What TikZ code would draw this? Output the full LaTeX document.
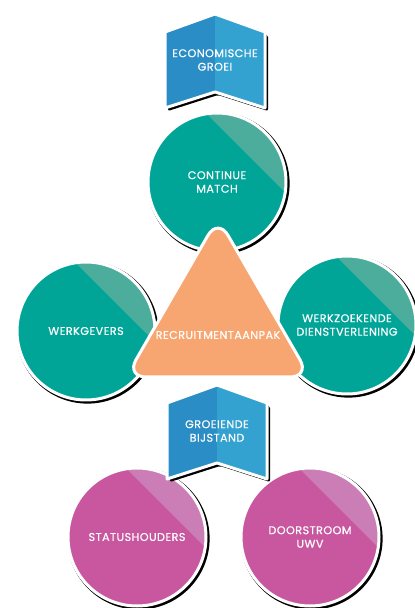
\documentclass[tikz,border=0pt]{standalone}
\usepackage{fontspec}
\setmainfont[LetterSpace=4,FakeBold=0.5]{Poppins}
\usepackage{tikz}
\usetikzlibrary{shadows}
\definecolor{teal}{HTML}{00A598}
\definecolor{tealpale}{HTML}{4CAD9C}
\definecolor{pink}{HTML}{C9579F}
\definecolor{pinkpale}{HTML}{CB7EB5}
\definecolor{blueleft}{HTML}{2B8DC6}
\definecolor{blueright}{HTML}{33A2D0}
\definecolor{orange}{HTML}{F7A671}
\tikzset{txt/.style={text=white,align=center,font=\fontsize{11.2}{13.5}\selectfont},
         segment/.style={path picture={\fill[#1] ([shift={(45:41)}]path picture bounding box.center)
             ++(-45:120) -- ++(135:240) -- ++(45:120) -- ++(-45:240) -- cycle;}},
         bubble/.style={circle,minimum size=138pt,inner sep=0pt,fill=#1,draw=white,line width=3pt,
             segment=#1pale,txt,
             drop shadow={fill=black,opacity=1,shadow xshift=1.5pt,shadow yshift=-1.5pt,shadow scale=1.03}},
         chevfill/.style={white,line width=3pt,line join=round}}

\begin{document}
\begin{tikzpicture}[x=1pt,y=1pt]
\useasboundingbox (0,0) rectangle (415,608);
\node[bubble=teal] (match) at (217,426) {CONTINUE\\MATCH};
\node[bubble=teal] (werkg) at (86,277) {WERKGEVERS};
\node[bubble=teal] (werkz) at (347,283) {WERKZOEKENDE\\DIENSTVERLENING};
\node[bubble=pink] (status) at (137,71) {STATUSHOUDERS};
\node[bubble=pink] (uwv) at (310,71) {DOORSTROOM\\UWV};
% recruitment triangle
\draw[fill=orange,draw=white,line width=3pt,rounded corners=20pt] (218,390) -- (310,231) -- (126,231) -- cycle;
\node[txt] (recr) at (218,273) {RECRUITMENTAANPAK};
% chevrons
\begin{scope}[shift={(215,547)}]
  \fill[black,rounded corners=2pt] (-47,26) -- (3,44) -- (53,26) -- (53,-50) -- (3,-34) -- (-47,-50) -- cycle;
  \fill[blueleft] (-50,29) -- (0,47) -- (0,-31) -- (-50,-47) -- cycle;
  \fill[blueright] (0,47) -- (50,29) -- (50,-47) -- (0,-31) -- cycle;
  \draw[chevfill] (-50,29) -- (0,47) -- (50,29) -- (50,-47) -- (0,-31) -- (-50,-47) -- cycle;
  \node[txt] (groei) at (0,1) {ECONOMISCHE\\GROEI};
\end{scope}
\begin{scope}[shift={(217,176)}]
  \fill[black,rounded corners=2pt] (-47,26) -- (3,44) -- (53,26) -- (53,-50) -- (3,-34) -- (-47,-50) -- cycle;
  \fill[blueleft] (-50,29) -- (0,47) -- (0,-31) -- (-50,-47) -- cycle;
  \fill[blueright] (0,47) -- (50,29) -- (50,-47) -- (0,-31) -- cycle;
  \draw[chevfill] (-50,29) -- (0,47) -- (50,29) -- (50,-47) -- (0,-31) -- (-50,-47) -- cycle;
  \node[txt] (bijst) at (0,1) {GROEIENDE\\BIJSTAND};
\end{scope}
\end{tikzpicture}
\end{document}
